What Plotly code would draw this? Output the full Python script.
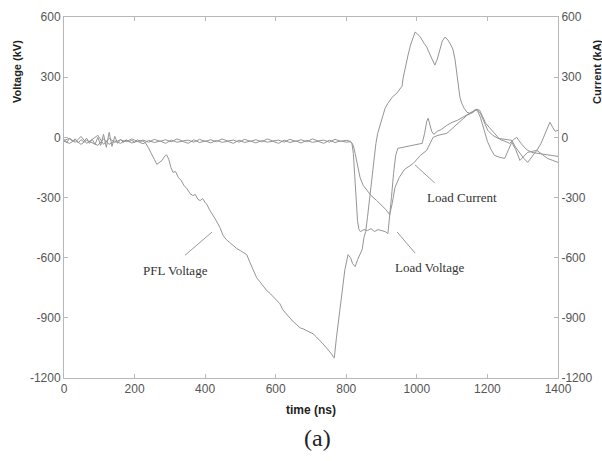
import plotly.graph_objects as go

# ---------------- data ----------------
pfl_t = [0, 8, 16, 24, 32, 40, 48, 56, 64, 72, 80, 88, 96, 104, 112, 120, 128, 136, 144, 152,
         160, 168, 176, 184, 192, 200, 208, 216, 224,
         232, 240, 248, 256, 263, 270, 278, 285, 291, 297, 303, 309, 316, 324, 332, 340, 348,
         357, 365, 372, 380, 386, 393, 400, 405, 412, 420, 428, 436, 442, 451, 460, 470, 480,
         490, 500, 510, 518, 526, 534, 540, 546, 555, 565, 575, 585, 595, 605, 612, 620, 630,
         640, 650, 660, 669, 678, 688, 697, 706, 715, 724, 734, 744, 752, 758, 763, 766,
         772, 780, 788, 796, 805, 812, 818, 825, 832, 838, 845, 850, 855, 860, 866, 872, 878,
         884, 889, 895, 903, 910, 918, 930, 943, 952, 958, 961, 968, 975, 982, 990, 995, 1002,
         1010, 1020, 1028, 1038, 1045, 1051, 1058, 1065, 1072, 1080, 1088, 1095, 1102, 1108,
         1113, 1118, 1122, 1127, 1134, 1142, 1150, 1158, 1165, 1172, 1180, 1190, 1200, 1210,
         1220, 1235, 1249, 1260, 1269, 1280, 1292, 1303, 1314, 1326, 1340, 1352, 1365, 1377,
         1385, 1392, 1400]
pfl_v = [-10, -25, -5, -20, -8, -28, -12, -22, -4, -30, -10, -35, 0, -40, 15, -50, 25, -45, 5, -30,
         -10, -25, -12, -22, -15, -25, -12, -20, -18,
         -30, -55, -80, -110, -135, -125, -115, -95, -88, -110, -150, -175, -170, -200, -215,
         -240, -255, -280, -290, -285, -310, -315, -305, -325, -335, -360, -380, -405, -430,
         -450, -490, -510, -525, -540, -555, -565, -575, -585, -620, -650, -680, -700, -720,
         -745, -765, -780, -800, -815, -830, -860, -880, -905, -920, -935, -950, -955, -965,
         -970, -980, -995, -1010, -1030, -1050, -1065, -1080, -1095, -1100,
         -1000, -880, -760, -660, -585, -600, -630, -645, -610, -590, -560, -500, -470, -400,
         -300, -200, -100, -30, 20, 55, 110, 145, 170, 200, 220, 240, 255, 295, 360, 410, 460,
         505, 525, 515, 500, 470, 450, 410, 380, 360, 390, 440, 480, 500, 485, 465, 440, 390,
         320, 250, 200, 170, 145, 125, 120, 128, 138, 132, 100, 40, -20, -60, -90, -100, -105,
         -60, -25, -60, -115, -95, -75, -70, -65, -30, 20, 75, 50, 30, 35]

lv_t = [0, 16, 32, 48, 64, 80, 96, 112, 128, 144, 160, 176, 192, 208, 224, 240, 256, 272, 288,
        304, 320, 336, 352, 368, 384, 400, 416, 432, 448, 464, 480, 496, 512, 528, 544, 560,
        576, 592, 608, 624, 640, 656, 672, 688, 704, 720, 736, 752, 768, 784, 800, 812,
        816, 820, 824, 828, 832, 836, 840, 850, 860, 870, 880, 890, 900, 910, 918, 922, 928,
        934, 940, 946, 960, 975, 990, 1005, 1015, 1022, 1028, 1032, 1036, 1042, 1048, 1058,
        1070, 1085, 1100, 1115, 1130, 1145, 1160, 1170, 1180, 1190, 1201, 1215, 1230, 1250,
        1269, 1280, 1292, 1303, 1314, 1326, 1340, 1355, 1370, 1385, 1400]
lv_v = [-20, -30, -12, -35, -15, -28, -40, -8, -35, -18, -30, -14, -28, -20, -32, -15, -26, -18,
        -30, -14, -24, -20, -30, -12, -26, -18, -28, -15, -25, -20, -30, -14, -26, -18, -28,
        -16, -24, -20, -30, -14, -26, -18, -28, -15, -25, -20, -30, -14, -26, -18, -24, -22,
        -30, -80, -200, -330, -420, -460, -470, -460, -465, -455, -470, -460, -465, -470, -480,
        -420, -300, -180, -90, -55, -50, -45, -40, -35, -30, 20, 80, 95, 70, 30, 15, 30, 40,
        60, 75, 85, 100, 115, 130, 140, 120, 80, 35, 10, -5, -10, -15, -50, -80, -105, -125,
        -95, -65, -85, -105, -115, -125]

lc_t = [0, 16, 32, 48, 64, 80, 96, 112, 128, 144, 160, 176, 192, 208, 224, 240, 256, 272, 288,
        304, 320, 336, 352, 368, 384, 400, 416, 432, 448, 464, 480, 496, 512, 528, 544, 560,
        576, 592, 608, 624, 640, 656, 672, 688, 704, 720, 736, 752, 768, 784, 800, 812,
        816, 820, 825, 832, 839, 848, 858, 870, 886, 900, 912, 923, 930, 938, 950, 965, 990,
        1010, 1028, 1046, 1060, 1085, 1110, 1142, 1160, 1170, 1178, 1185, 1195, 1205, 1220,
        1235, 1250, 1263, 1275, 1283, 1295, 1310, 1325, 1340, 1360, 1380, 1400]
lc_i = [-15, -5, -25, 5, -30, -10, 10, -35, -5, -25, -12, -22, -8, -20, -14, -24, -10, -20, -12,
        -22, -8, -18, -14, -24, -10, -20, -12, -22, -8, -18, -14, -24, -10, -20, -12, -22, -8,
        -18, -14, -24, -10, -20, -12, -22, -8, -18, -14, -24, -10, -20, -15, -20,
        -30, -40, -80, -140, -200, -240, -265, -290, -315, -340, -360, -385, -330, -250, -200,
        -160, -130, -90, -65, 0, 10, 20, 60, 110, 125, 140, 135, 110, 70, 50, 20, -10, -20,
        -30, -10, 0, -30, -60, -75, -80, -85, -90, -95]

x_ticks = [0, 200, 400, 600, 800, 1000, 1200, 1400]
y_ticks = [-1200, -900, -600, -300, 0, 300, 600]
y_tick_labels = ["-1200", "-900", "-600", "-300", "0", "300", "600"]

# ---------------- figure ----------------
line_col = "#959595"
fig = go.Figure()
fig.add_trace(go.Scatter(x=pfl_t, y=pfl_v, mode="lines", name="PFL Voltage",
                         line=dict(color=line_col, width=1)))
fig.add_trace(go.Scatter(x=lv_t, y=lv_v, mode="lines", name="Load Voltage",
                         line=dict(color=line_col, width=1)))
fig.add_trace(go.Scatter(x=lc_t, y=lc_i, mode="lines", name="Load Current", yaxis="y2",
                         line=dict(color=line_col, width=1)))

axis_col = "#b8b8b8"
tick_font = dict(family="Liberation Sans, Arial, sans-serif", size=12, color="#555")

fig.update_layout(
    width=602, height=461,
    margin=dict(l=64, r=44, t=17, b=83),
    paper_bgcolor="white", plot_bgcolor="white",
    showlegend=False,
    xaxis=dict(range=[0, 1400], tickvals=x_ticks, ticks="inside", ticklen=4,
               tickcolor=axis_col, showline=True, linecolor=axis_col, linewidth=1,
               mirror="ticks", showgrid=False, zeroline=False, tickfont=tick_font,
               automargin=False),
    yaxis=dict(range=[-1200, 600], tickvals=y_ticks, ticktext=y_tick_labels, ticks="inside",
               ticklen=4, tickcolor=axis_col, showline=True, linecolor=axis_col, linewidth=1,
               mirror="ticks", showgrid=False, zeroline=False, tickfont=tick_font,
               automargin=False),
    yaxis2=dict(range=[-1200, 600], tickvals=y_ticks, ticktext=y_tick_labels, ticks="inside",
                ticklen=4, tickcolor=axis_col, showline=True, linecolor=axis_col, linewidth=1,
                overlaying="y", side="right", showgrid=False, zeroline=False,
                tickfont=tick_font, automargin=False),
)

title_font = dict(family="Liberation Sans, Arial, sans-serif", size=11, color="#222")
serif = dict(family="Liberation Serif, Times New Roman, serif", size=13, color="#333")
centered = dict(xanchor="center", yanchor="middle", showarrow=False)

fig.add_annotation(text="<b>Voltage (kV)</b>", xref="paper", yref="paper", x=-0.095, y=0.848,
                   textangle=-90, font=title_font, **centered)
fig.add_annotation(text="<b>Current (kA)</b>", xref="paper", yref="paper", x=1.079, y=0.848,
                   textangle=-90, font=title_font, **centered)
fig.add_annotation(text="<b>time (ns)</b>", xref="paper", yref="paper", x=0.5, y=-0.089,
                   font=dict(family="Liberation Sans, Arial, sans-serif", size=12,
                             color="#222"), **centered)
fig.add_annotation(text="(a)", xref="paper", yref="paper", x=0.514, y=-0.166,
                   font=dict(family="Liberation Serif, Times New Roman, serif", size=24,
                             color="#222"), **centered)

# labels with pointer lines
fig.add_annotation(text="PFL Voltage", x=317, y=-666, font=serif, **centered)
fig.add_annotation(text="Load Current", x=1128, y=-298, font=serif, **centered)
fig.add_annotation(text="Load Voltage", x=1037, y=-647, font=serif, **centered)
pointer = dict(color="#999", width=1)
fig.add_shape(type="line", x0=343, y0=-588, x1=419, y1=-473, line=pointer)
fig.add_shape(type="line", x0=995, y0=-138, x1=1051, y1=-228, line=pointer)
fig.add_shape(type="line", x0=944, y0=-472, x1=995, y1=-577, line=pointer)

fig.write_html("out.html", config={"displayModeBar": False},
               post_script="document.body.style.margin='0';")
